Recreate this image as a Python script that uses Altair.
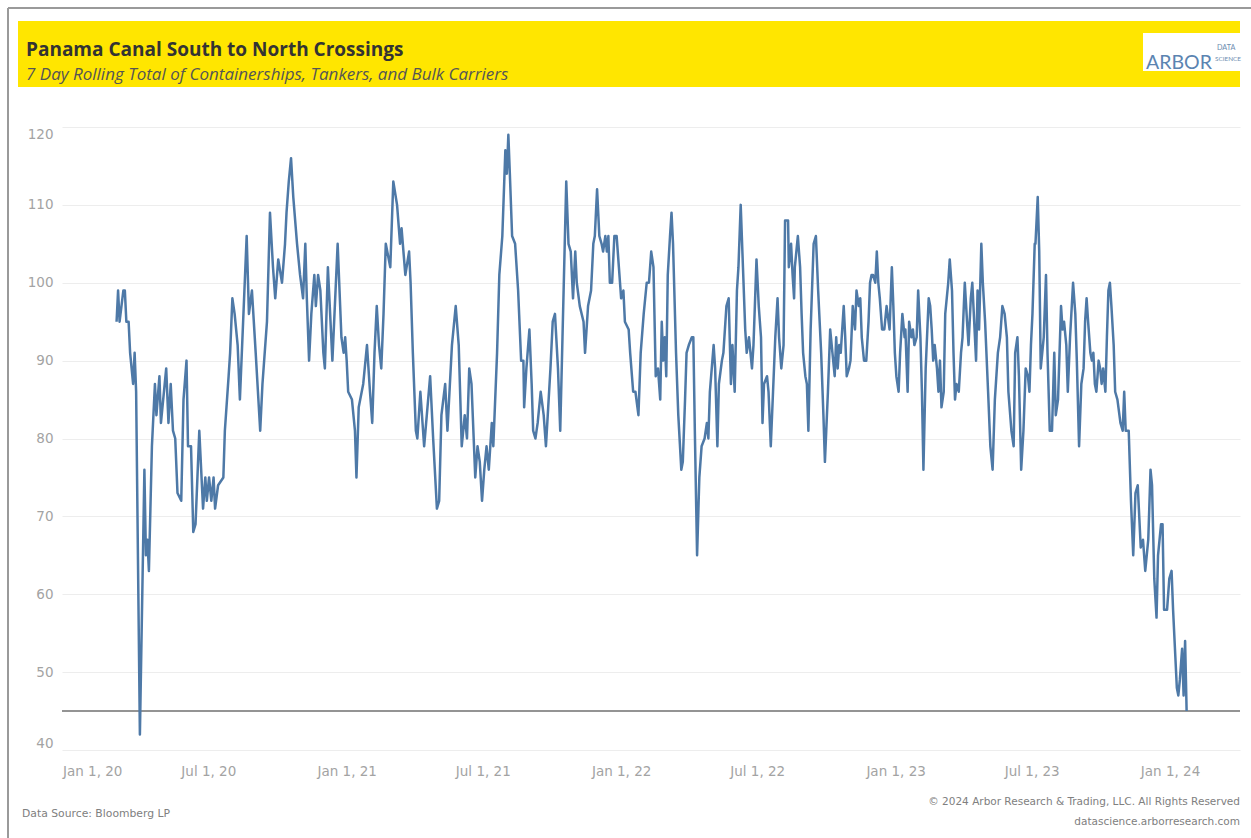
import altair as alt
import pandas as pd

# ---------------- data ----------------
# day offsets counted from 2020-01-01, and the 7-day rolling totals
seg_a_days = [60,62,64,69,71,73,76,78,82,84,86,91,97,99,101,103,107,111,113,117,119,126,129,132,135,138,141,146,149,153,155,159,162,165,170,175,178,180,183,186,189,191,195,202,204,209,211,214,217,221,224,233,236,240,245,251,254,260,264,268,271,275,280,284]
seg_a_vals = [95,99,95,99,99,95,95,91,87,91,86,42,76,65,67,63,79,87,83,88,82,89,82,87,81,80,73,72,85,90,79,79,68,69,81,71,75,72,75,72,75,71,74,75,81,88,91,98,96,92,85,106,96,99,91,81,87,95,109,102,98,103,100,105]

seg_b_days = [286,289,292,295,300,304,308,311,313,316,319,323,325,328,331,335,337,341,343,347,354,359,362,364,366,368,373,377,379,382,388,393,397,400,403,406,409,412,415,418,424,428,433,437,439,444,449,451,454,458,460,464,469,477,481,486,489,492,497,500,506,511,515,519]
seg_b_vals = [109,113,116,111,105,101,98,105,98,90,96,101,97,101,99,91,89,102,98,90,105,93,91,93,90,86,85,81,75,84,87,92,86,82,91,97,92,89,96,105,102,113,110,105,107,101,104,100,91,81,80,86,79,88,80,71,72,83,87,81,92,97,92,79]

seg_c_days = [523,526,529,532,537,540,543,546,549,552,555,559,561,566,569,573,577,579,581,583,586,590,594,598,601,602,605,609,612,614,617,620,624,628,631,634,637,640,643,647,650,653,656,658,661,664,667,670,672,676,681,683,687,691,694,696,699,702,705,707,710,712,714,716,719,722,725,728,731,734,736,741,743,747,750,754,757,761]
seg_c_vals = [83,80,89,87,75,79,77,72,76,79,76,82,79,91,101,106,117,114,119,114,106,105,99,90,90,84,89,94,87,81,80,82,86,83,79,84,89,95,96,89,81,93,105,113,105,104,98,104,100,97,95,91,97,99,105,106,112,106,105,104,106,104,106,100,100,106,106,102,98,99,95,94,91,86,86,83,91,96]

seg_d_days = [765,768,771,774,777,780,783,785,787,789,791,793,796,798,800,804,807,811,813,816,818,821,825,827,829,832,835,838,842,845,847,849,854,856,859,861,865,867,871,874,877,879,882,885,887,890,893,896,898,901,905,907,911,914,917,919,921,925,927,930,933,936,939,941,944,947,949,953,954,957,959,961,962,966,969,971,973,976,978,980,983,987,990,993,997,1000]
seg_d_vals = [100,100,104,102,88,89,85,95,90,93,88,101,106,109,105,91,83,76,77,85,91,92,93,93,81,65,75,79,80,82,80,86,92,89,79,87,90,91,97,98,87,92,86,99,102,110,102,94,91,93,89,92,103,97,93,82,87,88,86,79,86,93,98,93,89,92,108,108,102,105,101,98,102,106,102,96,91,88,87,81,94,105,106,99,91,83]

seg_e_days = [1002,1006,1009,1012,1015,1017,1019,1021,1023,1027,1029,1031,1034,1036,1039,1042,1044,1047,1049,1051,1054,1057,1060,1062,1064,1066,1069,1071,1073,1075,1078,1081,1084,1088,1091,1093,1095,1097,1100,1102,1105,1108,1109,1112,1114,1117,1119,1121,1124,1126,1129,1131,1133,1136,1140,1142,1144,1146,1148,1151,1153,1155,1157,1160,1162,1166,1168,1171,1173,1175,1177,1180,1183,1185,1188,1191,1193,1196,1198,1200,1203,1205,1207,1210,1212,1215,1219,1222,1225,1228,1232,1235,1238,1241]
seg_e_vals = [77,86,94,91,88,93,89,92,91,97,93,88,89,90,97,94,99,97,98,93,90,90,95,100,101,101,100,104,100,98,94,94,97,94,102,97,91,88,86,91,96,93,94,86,95,93,94,92,93,99,93,86,76,89,98,97,94,90,92,89,86,90,84,86,96,100,103,99,91,85,87,86,91,93,100,95,92,98,100,96,90,99,94,105,100,95,86,79,76,85,91,93,97,96]

seg_f_days = [1244,1246,1250,1253,1255,1258,1260,1263,1266,1269,1272,1274,1276,1278,1281,1282,1285,1287,1289,1293,1296,1298,1301,1304,1307,1309,1312,1316,1318,1320,1323,1325,1328,1332,1335,1337,1340,1343,1346,1348,1350,1352,1355,1357,1359,1361,1363,1366,1368,1370,1372,1375,1377,1379,1381,1383,1386,1388,1391,1395,1398,1400,1402,1406,1408,1409,1412,1415,1418,1420,1422,1425,1428,1432,1435,1437,1440,1443,1445,1449,1451,1453,1457,1460,1463,1465,1468,1470,1472,1474,1477,1479,1481,1483]
seg_f_vals = [93,86,81,79,91,93,88,76,81,89,88,86,92,96,105,105,111,104,89,93,101,91,81,81,91,83,85,97,94,95,92,86,93,100,96,90,79,87,89,95,98,95,91,90,91,87,86,90,89,87,89,86,93,99,100,97,92,86,85,82,81,86,81,81,75,72,65,73,74,70,66,67,63,67,76,74,62,57,65,69,69,58,58,62,63,58,52,48,47,49,53,47,54,45]

ref_level = [45]                       # horizontal reference line (latest level)
y_ticks = [40, 50, 60, 70, 80, 90, 100, 110, 120]
x_ticks = [(2020, 1), (2020, 7), (2021, 1), (2021, 7), (2022, 1), (2022, 7), (2023, 1), (2023, 7), (2024, 1)]

title_text = "Panama Canal South to North Crossings"
subtitle_text = "7 Day Rolling Total of Containerships, Tankers, and Bulk Carriers"
source_text = "Data Source: Bloomberg LP"
copyright_text = "\u00a9 2024 Arbor Research & Trading, LLC. All Rights Reserved"
site_text = "datascience.arborresearch.com"

# ---------------- build table ----------------
days = seg_a_days + seg_b_days + seg_c_days + seg_d_days + seg_e_days + seg_f_days
vals = seg_a_vals + seg_b_vals + seg_c_vals + seg_d_vals + seg_e_vals + seg_f_vals
dates = (pd.Timestamp("2020-01-01") + pd.to_timedelta(days, unit="D")).strftime("%Y-%m-%d")
df = pd.DataFrame({"date": list(dates), "crossings": vals})

# ---------------- layout ----------------
OX, OY = 62, 127          # plot origin on the page
W, H = 1178, 623          # plot area
PAD = {"left": OX, "top": OY, "right": 1251 - OX - W, "bottom": 838 - OY - H}

AXIS_GRAY = "#a3a3a3"
LINE_BLUE = "#4e79a7"
FONT = "DejaVu Sans"


def px(x):
    return x - OX


def py(y):
    return y - OY


def one():
    return pd.DataFrame({"k": [0]})


def text_layer(txt, x, y, **kw):
    return alt.Chart(pd.DataFrame({"t": [txt]})).mark_text(**kw).encode(
        text="t:N", x=alt.value(px(x)), y=alt.value(py(y)))


def box(x1, x2, y1, y2, color):
    return alt.Chart(one()).mark_rect(color=color).encode(
        x=alt.value(px(x1)), x2=alt.value(px(x2)), y=alt.value(py(y1)), y2=alt.value(py(y2)))


x_enc = alt.X(
    "date:T",
    scale=alt.Scale(type="utc", domain=[
        alt.DateTime(year=2019, month=12, date=19, hours=10, utc=True),
        alt.DateTime(year=2024, month=4, date=3, utc=True)]),
    axis=alt.Axis(
        values=[alt.DateTime(year=yy, month=mm, date=1, utc=True) for yy, mm in x_ticks],
        labelExpr="utcFormat(datum.value, '%b %-d, %y')",
        title=None, grid=False, domain=False, ticks=False,
        labelPadding=14, labelFlush=12, labelFlushOffset=9,
        labelColor=AXIS_GRAY, labelFont=FONT, labelFontSize=13.5),
)
y_axis = alt.Axis(
    values=y_ticks, title=None, domain=False, ticks=False,
    grid=True, gridColor="#ededed", gridWidth=1,
    labelPadding=9, labelFlush=True,
    labelColor=AXIS_GRAY, labelFont=FONT, labelFontSize=13.5)
y_scale = alt.Scale(domain=[40, 120], nice=False, zero=False)

line = alt.Chart(df).mark_line(color=LINE_BLUE, strokeWidth=2.5, strokeJoin="round").encode(
    x=x_enc, y=alt.Y("crossings:Q", scale=y_scale, axis=y_axis))

ref = alt.Chart(pd.DataFrame({"ref": ref_level})).mark_rule(color="#707070", strokeWidth=1.5).encode(
    y=alt.Y("ref:Q", scale=y_scale, axis=y_axis))

# frame
frame_left = alt.Chart(one()).mark_rule(color="#9a9a9a", strokeWidth=2).encode(
    x=alt.value(px(8)), y=alt.value(py(8)), y2=alt.value(py(838)))
frame_top = alt.Chart(one()).mark_rule(color="#9a9a9a", strokeWidth=2).encode(
    x=alt.value(px(8)), x2=alt.value(px(1251)), y=alt.value(py(8)))

header = box(18, 1240, 21, 87, "#ffe600")
logo_box = box(1143, 1240, 33, 71, "#ffffff")

title = text_layer(title_text, 26, 50, align="left", font="Open Sans", fontSize=19,
                   fontWeight="bold", color="#333333")
subtitle = text_layer(subtitle_text, 26, 74.5, align="left", font="Open Sans", fontSize=17,
                      fontStyle="italic", color="#555555")
logo_main = text_layer("ARBOR", 1146, 63, align="left", font="Lato", fontSize=19.5,
                       color="#5b84b1")
logo_d = text_layer("DATA", 1217, 48, align="left", font="Lato", fontSize=7.2,
                    color="#6d8db0")
logo_s = text_layer("SCIENCE", 1215, 59, align="left", font="Lato", fontSize=6.4,
                    color="#6d8db0")

src = text_layer(source_text, 22, 814, align="left", font=FONT, fontSize=10.8, color="#808080")
copy_ = text_layer(copyright_text, 1240, 802, align="right", font=FONT, fontSize=10.5, color="#808080")
site = text_layer(site_text, 1240, 822, align="right", font=FONT, fontSize=10.5, color="#808080")

chart = alt.layer(
    frame_left, frame_top, header, logo_box,
    ref, line,
    title, subtitle, logo_main, logo_d, logo_s,
    src, copy_, site,
).properties(
    width=W, height=H,
    autosize=alt.AutoSizeParams(type="none"),
    padding=PAD,
    background="white",
).configure_view(stroke=None)

chart.save("out.html", embed_options={"renderer": "svg", "actions": False})
